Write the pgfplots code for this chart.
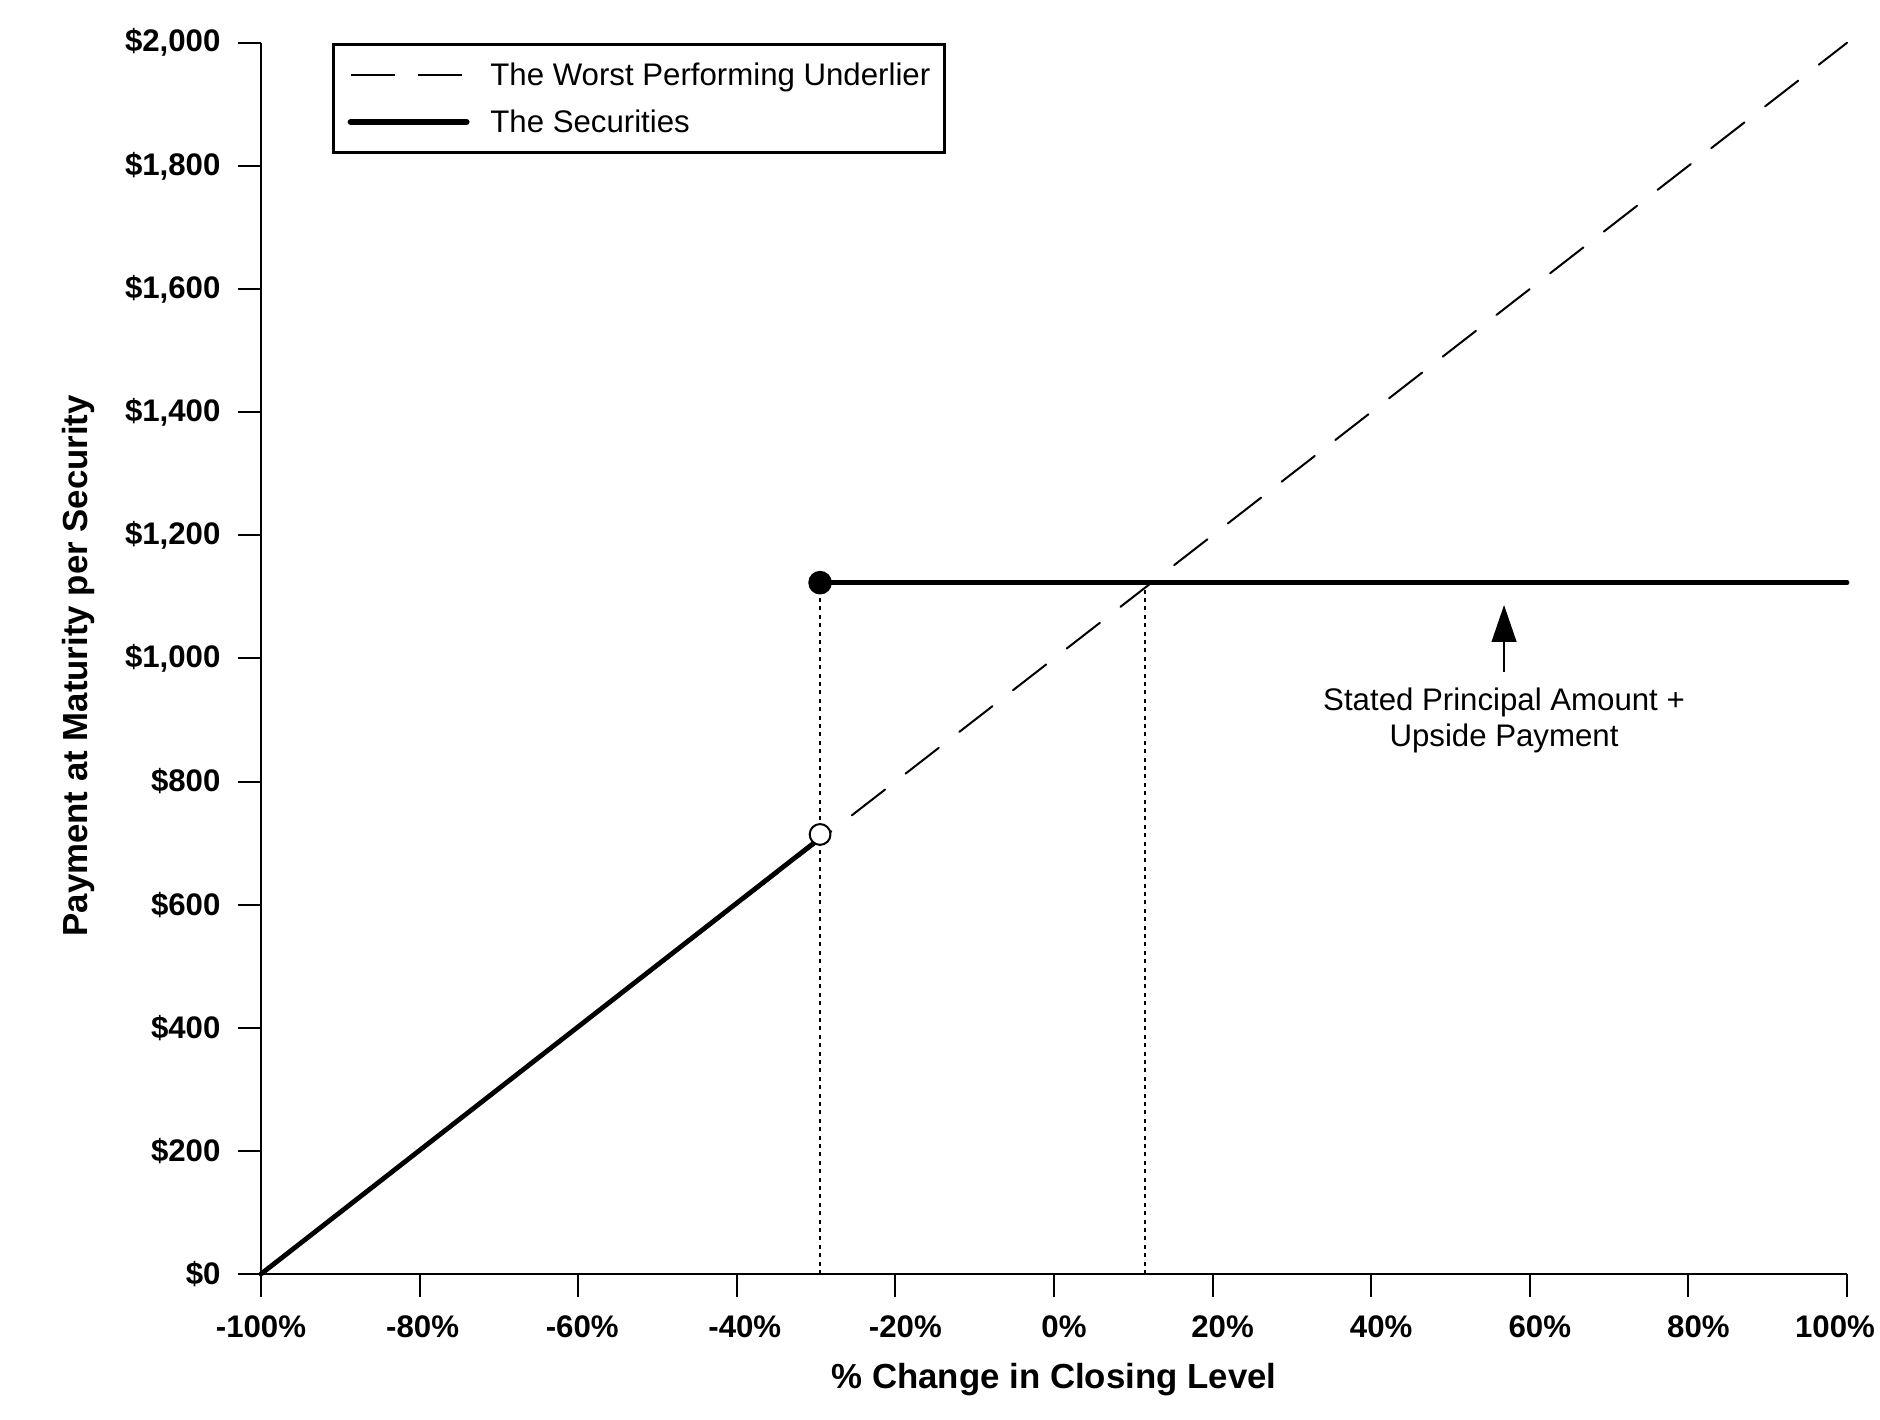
\documentclass[border=0pt]{standalone}
\usepackage{fontspec}
\setmainfont{Liberation Sans}
\usepackage{pgfplots}
\pgfplotsset{compat=1.18}
\usetikzlibrary{arrows.meta}
\begin{document}
\begin{tikzpicture}
\path[use as bounding box] (-65.25pt,-36.5pt) rectangle (404.75pt,318.5pt);
\begin{axis}[
  at={(0pt,0pt)}, anchor=south west,
  scale only axis, width=396.5pt, height=307.8pt,
  xmin=-100, xmax=100, ymin=0, ymax=2000,
  clip=false,
  axis lines*=left,
  x axis line style={line width=0.7pt},
  y axis line style={line width=0.5pt},
  tick align=outside,
  major tick length=5.8pt,
  tick style={line width=0.5pt, black},
  xtick={-100,-80,...,100},
  xticklabels={-100\%,{\kern1.5pt-80\%},{\kern2pt-60\%},{\kern4pt-40\%},{\kern5pt-20\%},{\kern5pt0\%},{\kern5pt20\%},{\kern5pt40\%},{\kern5pt60\%},{\kern5pt80\%},{100\%\kern6pt}},
  ytick={0,200,...,2000},
  yticklabels={\$0,\$200,\$400,\$600,\$800,{\$1,000},{\$1,200},{\$1,400},{\$1,600},{\$1,800},{\$2,000}},
  tick label style={font=\bfseries\fontsize{7.8}{9}\selectfont},
  xticklabel style={anchor=north, yshift=-1.15pt},
  yticklabel style={anchor=east, xshift=-0.8pt},
  xlabel={\% Change in Closing Level},
  ylabel={Payment at Maturity per Security},
  xlabel style={font=\bfseries\fontsize{8.7}{10}\selectfont, at={(axis description cs:0.5,-0.0926)}, anchor=base},
  ylabel style={font=\bfseries\fontsize{8.7}{10}\selectfont, at={(axis description cs:-0.1091,0.494)}, anchor=base},
  legend cell align=left,
  legend style={at={(axis description cs:0,1)}, anchor=north west, xshift=17.7pt,
    draw=black, line width=0.7pt, inner xsep=3.6pt, inner ysep=3pt, row sep=2.5pt,
    font=\fontsize{7.8}{9}\selectfont,
    nodes={inner sep=0pt, text height=7.3pt, text depth=2pt},
    /tikz/every odd column/.append style={column sep=5.2pt}},
]
\addlegendimage{legend image code/.code={\draw[line width=0.6pt, dash pattern=on 11pt off 5.8pt] (0pt,0pt) -- (28.9pt,0pt);}}
\addlegendentry{The Worst Performing Underlier}
\addlegendimage{legend image code/.code={\draw[line width=1.6pt, line cap=round] (0pt,0pt) -- (28.9pt,0pt);}}
\addlegendentry{The Securities}

% underlier
\addplot[forget plot, black, line width=0.5pt, dash pattern=on 10.5pt off 6.5pt, line cap=round] coordinates {(-100,0) (100,2000)};
% dotted guides
\addplot[forget plot, black, line width=0.5pt, dash pattern=on 1pt off 1.1pt] coordinates {(-29.5,0) (-29.5,1123)};
\addplot[forget plot, black, line width=0.5pt, dash pattern=on 1pt off 1.1pt] coordinates {(11.5,0) (11.5,1123)};
% securities
\addplot[forget plot, black, line width=1.2pt, line cap=round] coordinates {(-100,0) (-29.5,708)};
\addplot[forget plot, black, line width=1.2pt, line cap=round] coordinates {(-29.5,1123) (100,1123)};
\addplot[forget plot, only marks, mark=*, mark size=2.75pt, black] coordinates {(-29.5,1123)};
\addplot[forget plot, only marks, mark=*, mark size=2.6pt, mark options={draw=black, fill=white, line width=0.5pt}] coordinates {(-29.5,714)};

\draw[-{Triangle[length=9.2pt,width=6.2pt]}, line width=0.4pt] (axis cs:56.75,978) -- (axis cs:56.75,1086.6);
\node[anchor=base, inner sep=0pt, font=\fontsize{7.8}{9}\selectfont] at (axis cs:56.75,916) {Stated Principal Amount +};
\node[anchor=base, inner sep=0pt, font=\fontsize{7.8}{9}\selectfont] at (axis cs:56.75,856.5) {Upside Payment};
\end{axis}
\end{tikzpicture}
\end{document}
